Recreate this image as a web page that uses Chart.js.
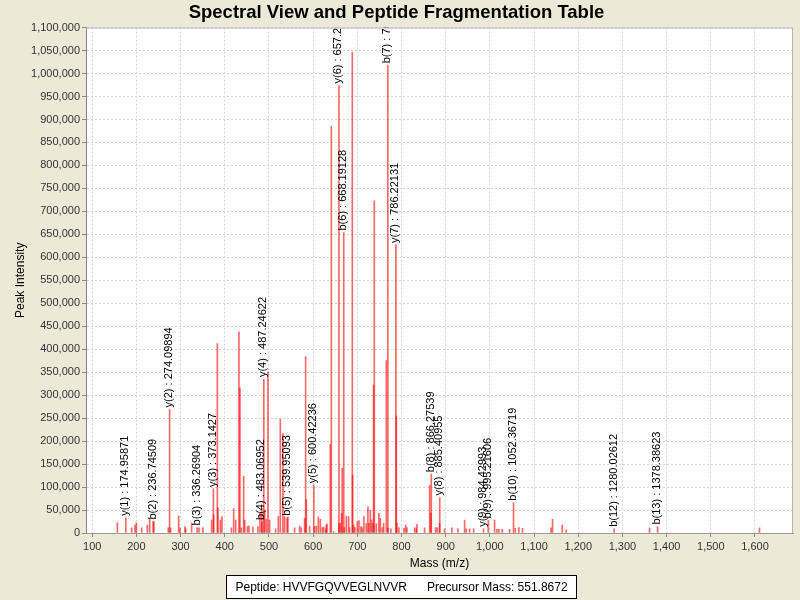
<!DOCTYPE html>
<html>
<head>
<meta charset="utf-8">
<script src="https://cdn.jsdelivr.net/npm/chart.js@4.4.1/dist/chart.umd.min.js"></script>
<style>
  html, body { margin: 0; padding: 0; background: #ECE9D8; }
  #spectrum { display: block; }
</style>
</head>
<body>
<canvas id="spectrum" width="800" height="600"></canvas>
<script>
// unannotated peaks (m/z, intensity)
const peakMz = [
  158.1, 190.5, 198.0, 201.1, 213.1, 226.0, 231.2, 240.9, 273.5, 278.7,
  296.8, 299.8, 311.1, 312.7, 326.2, 342.8, 351.8, 371.5, 376.0, 384.4,
  385.7, 391.2, 394.8, 416.1, 421.3, 425.8, 433.3, 435.5, 438.7, 443.9,
  446.2, 452.3, 455.9, 464.9, 476.2, 480.8, 485.1, 491.4, 495.2, 498.9,
  502.7, 516.3, 522.4, 526.9, 532.8, 536.7, 544.1, 559.3, 570.6, 574.4,
  581.9, 584.2, 585.7, 593.2, 604.5, 608.4, 612.9, 617.4, 621.9, 624.9,
  629.4, 631.0, 632.4, 640.0, 642.3, 647.5, 659.6, 662.7, 665.6, 667.0,
  671.7, 676.2, 681.4, 683.7, 689.8, 690.5, 692.8, 695.7, 701.1, 704.8,
  709.3, 712.4, 716.1, 721.5, 725.1, 727.4, 730.5, 733.5, 736.4, 738.0,
  739.6, 744.1, 750.0, 753.2, 757.7, 760.6, 766.7, 770.4, 777.1, 789.4,
  790.7, 795.2, 806.6, 810.4, 813.3, 830.8, 834.6, 836.0, 853.4, 864.9,
  867.5, 878.3, 882.1, 887.3, 898.6, 915.2, 928.7, 943.9, 947.7, 955.2,
  964.3, 1011.8, 1017.0, 1021.5, 1029.2, 1045.7, 1058.6, 1066.7, 1075.1, 1139.6,
  1143.0, 1164.9, 1174.0, 1362.4, 1611.3
];
const peakIntensity = [
  22000, 11000, 17000, 22000, 11000, 17000, 30000, 25000, 12000, 11000,
  37000, 11000, 14000, 9000, 22000, 11000, 12000, 28000, 39000, 412000,
  55000, 28000, 36000, 11000, 53000, 28000, 438000, 316000, 11000, 124000,
  28000, 14000, 15000, 13000, 14000, 43000, 54000, 50000, 30000, 351000,
  28000, 9000, 37000, 248000, 217000, 36000, 35000, 11000, 15000, 11000,
  32000, 384000, 73000, 15000, 14000, 15000, 35000, 30000, 12000, 13000,
  9000, 17000, 20000, 193000, 885000, 3000, 21000, 21000, 43000, 141000,
  12000, 37000, 36000, 12000, 1046000, 126000, 17000, 12000, 25000, 27000,
  14000, 12000, 36000, 21000, 57000, 21000, 50000, 28000, 21000, 322000,
  723000, 20000, 43000, 32000, 12000, 21000, 375000, 10000, 9000, 255000,
  21000, 12000, 10000, 17000, 12000, 12000, 9000, 19000, 11000, 104000,
  43000, 12000, 11000, 21000, 9000, 11000, 9000, 28000, 9000, 9000,
  9000, 28000, 8000, 8000, 8000, 8000, 10000, 12000, 10000, 11000,
  30000, 17000, 7000, 11500, 11500
];

// annotated fragment ions
const ionLabels = [
  'y(1) : 174.95871', 'b(2) : 236.74509', 'y(2) : 274.09894', 'b(3) : 336.26904',
  'y(3) : 373.1427', 'b(4) : 483.06952', 'y(4) : 487.24622', 'b(5) : 539.95093',
  'y(5) : 600.42236', 'y(6) : 657.29', 'b(6) : 668.19128', 'b(7) : 767.9',
  'y(7) : 786.22131', 'b(8) : 866.27539', 'y(8) : 885.40955', 'y(9) : 984.42993',
  'b(9) : 995.21606', 'b(10) : 1052.36719', 'b(12) : 1280.02612', 'b(13) : 1378.38623'
];
const ionMz = [
  174.95871, 236.74509, 274.09894, 336.26904, 373.1427, 483.06952, 487.24622, 539.95093,
  600.42236, 657.29, 668.19128, 767.9, 786.22131, 866.27539, 885.40955, 984.42993,
  995.21606, 1052.36719, 1280.02612, 1378.38623
];
const ionIntensity = [
  33000, 25000, 269000, 12000, 96000, 24000, 335000, 33000,
  104000, 974000, 654000, 1018000, 627000, 128000, 77000, 9000,
  27000, 66000, 9000, 14000
];

// axis ticks
const massTicks = [100, 200, 300, 400, 500, 600, 700, 800, 900, 1000, 1100, 1200, 1300, 1400, 1500, 1600];

const peptide = 'HVVFGQVVEGLNVVR';
const precursorMass = '551.8672';

const FONT = '"Liberation Sans", Arial, sans-serif';
const peakColor = 'rgba(255, 0, 0, 0.6)';
const gridColor = '#d4d4d4';
const fmt = v => Number(v).toLocaleString('en-US');

const plotBackground = {
  id: 'plotBackground',
  beforeDraw(chart) {
    const { ctx, chartArea: a } = chart;
    ctx.save();
    ctx.fillStyle = '#ffffff';
    ctx.fillRect(a.left, a.top, a.right - a.left, a.bottom - a.top);
    ctx.restore();
  },
  afterDraw(chart) {
    const { ctx, chartArea: a } = chart;
    ctx.save();
    ctx.strokeStyle = '#b4b4b4';
    ctx.lineWidth = 1;
    ctx.beginPath();
    ctx.moveTo(a.left, a.top + 0.5);
    ctx.lineTo(a.right - 0.5, a.top + 0.5);
    ctx.lineTo(a.right - 0.5, a.bottom);
    ctx.stroke();
    ctx.restore();
  }
};

// rotated ion labels above the annotated peaks, clipped to the plot
const ionLabelPlugin = {
  id: 'ionLabels',
  afterDatasetsDraw(chart) {
    const { ctx, chartArea: a, scales: { x, y } } = chart;
    ctx.save();
    ctx.beginPath();
    ctx.rect(a.left, a.top, a.right - a.left, a.bottom - a.top);
    ctx.clip();
    ctx.fillStyle = '#000';
    ctx.font = '11px ' + FONT;
    ctx.textAlign = 'left';
    ctx.textBaseline = 'middle';
    ionLabels.forEach((lab, i) => {
      const px = x.getPixelForValue(ionMz[i]);
      const py = y.getPixelForValue(ionIntensity[i]) - 2;
      ctx.save();
      ctx.translate(px, py);
      ctx.rotate(-Math.PI / 2);
      ctx.fillText(lab, 0, 0);
      ctx.restore();
    });
    ctx.restore();
  }
};

// boxed legend line under the axis
const infoBox = {
  id: 'infoBox',
  afterDraw(chart) {
    const { ctx } = chart;
    const left = 'Peptide: ' + peptide;
    const right = 'Precursor Mass: ' + precursorMass;
    ctx.save();
    ctx.font = '12px ' + FONT;
    const gap = 20, pad = 9;
    const w1 = ctx.measureText(left).width;
    const w2 = ctx.measureText(right).width;
    const w = Math.round(w1 + gap + w2 + 2 * pad);
    const bx = Math.round(401 - w / 2) + 0.5;
    const by = 575.5;
    ctx.fillStyle = '#ffffff';
    ctx.fillRect(bx, by, w, 23);
    ctx.strokeStyle = '#000';
    ctx.lineWidth = 1;
    ctx.strokeRect(bx, by, w, 23);
    ctx.fillStyle = '#000';
    ctx.textBaseline = 'middle';
    ctx.fillText(left, bx + pad, by + 12);
    ctx.fillText(right, bx + pad + w1 + gap, by + 12);
    ctx.restore();
  }
};

new Chart(document.getElementById('spectrum'), {
  type: 'bar',
  data: {
    datasets: [
      {
        label: 'peaks',
        data: peakMz.map((m, i) => ({ x: m, y: peakIntensity[i] })),
        backgroundColor: peakColor,
        borderWidth: 0,
        barThickness: 1
      },
      {
        label: 'ions',
        data: ionMz.map((m, i) => ({ x: m, y: ionIntensity[i] })),
        backgroundColor: peakColor,
        borderWidth: 0,
        barThickness: 1
      }
    ]
  },
  options: {
    responsive: false,
    devicePixelRatio: 1,
    animation: false,
    layout: { padding: { left: 0, right: 7, top: 0, bottom: 27 } },
    plugins: {
      legend: { display: false },
      tooltip: { enabled: false },
      title: {
        display: true,
        text: 'Spectral View and Peptide Fragmentation Table',
        color: '#000',
        font: { family: FONT, size: 18.5, weight: 'bold' },
        padding: { top: 2, bottom: 3.4 }
      }
    },
    scales: {
      x: {
        type: 'linear',
        position: 'bottom',
        min: 86,
        max: 1686,
        offset: false,
        afterBuildTicks: s => { s.ticks = massTicks.map(value => ({ value })); },
        afterFit: s => { s.height = 40; },
        ticks: {
          autoSkip: false,
          maxRotation: 0,
          color: '#333',
          padding: 3,
          font: { family: FONT, size: 11 },
          callback: v => fmt(v)
        },
        grid: {
          offset: false,
          color: gridColor,
          tickColor: '#888',
          tickLength: 4,
          tickBorderDash: []
        },
        border: { display: true, color: '#999', width: 1, dash: [2, 2] },
        title: {
          display: true,
          text: 'Mass (m/z)',
          color: '#000',
          font: { family: FONT, size: 12 },
          padding: { top: 0, bottom: 2 }
        }
      },
      y: {
        min: 0,
        max: 1100000,
        afterFit: s => { s.width = 86; },
        ticks: {
          stepSize: 50000,
          color: '#333',
          padding: 2,
          font: { family: FONT, size: 11 },
          callback: v => fmt(v)
        },
        grid: {
          color: gridColor,
          tickLength: 4,
          tickColor: '#888',
          tickBorderDash: []
        },
        border: { display: true, color: '#888', width: 1, dash: [2, 2] },
        title: {
          display: true,
          text: 'Peak Intensity',
          color: '#000',
          font: { family: FONT, size: 12 },
          padding: { top: 13, bottom: 0 }
        }
      }
    }
  },
  plugins: [plotBackground, ionLabelPlugin, infoBox]
});
</script>
</body>
</html>
